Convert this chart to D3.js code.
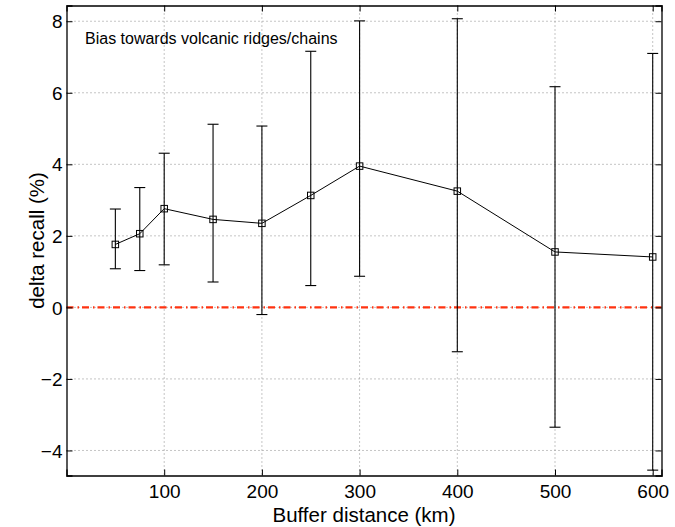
<!DOCTYPE html>
<html><head><meta charset="utf-8">
<script src="https://cdn.jsdelivr.net/npm/d3@7"></script>
<style>body{margin:0;background:#fff}svg{display:block}text{font-family:"Liberation Sans",Arial,Helvetica,sans-serif}</style>
</head><body>
<svg id="c" width="675" height="527"></svg>
<script>
const distances = [50, 75, 100, 150, 200, 250, 300, 400, 500, 600];
const meanValues = [1.76, 2.06, 2.76, 2.46, 2.35, 3.13, 3.95, 3.25, 1.55, 1.41];
const upperValues = [2.75, 3.35, 4.31, 5.12, 5.07, 7.16, 8.01, 8.07, 6.17, 7.10];
const lowerValues = [1.08, 1.03, 1.19, 0.71, -0.20, 0.61, 0.87, -1.24, -3.35, -4.55];
const xTicks = [100, 200, 300, 400, 500, 600];
const yTicks = [-4, -2, 0, 2, 4, 6, 8];
const annotation = "Bias towards volcanic ridges/chains";

const W = 675, H = 527;
const m = {l: 66.5, r: 13.5, t: 5.5, b: 51.5};
const svg = d3.select("#c");
const x = d3.scaleLinear().domain([0, 609]).range([m.l, W - m.r]);
const y = d3.scaleLinear().domain([-4.7, 8.44]).range([H - m.b, m.t]);
const fmt = d => d3.format("")(d).replace("-", "\u2212");

// grid
const g = svg.append("g");
g.selectAll(".gx").data(xTicks).join("line")
  .attr("x1", d => x(d)).attr("x2", d => x(d)).attr("y1", m.t).attr("y2", H - m.b)
  .attr("stroke", "#8a8a8a").attr("stroke-width", 1).attr("stroke-dasharray", "1,3");
g.selectAll(".gy").data(yTicks).join("line")
  .attr("y1", d => y(d)).attr("y2", d => y(d)).attr("x1", m.l).attr("x2", W - m.r)
  .attr("stroke", "#8a8a8a").attr("stroke-width", 1).attr("stroke-dasharray", "1,3");

// zero reference line
svg.append("line").attr("x1", x(0)).attr("x2", x(609)).attr("y1", y(0)).attr("y2", y(0))
  .attr("stroke", "#ff3311").attr("stroke-width", 2.2).attr("stroke-dasharray", "7,4,1.5,3");

// axes (MATLAB style, ticks inward on all sides)
const tl = 6;
const axB = svg.append("g").attr("transform", `translate(0,${H - m.b})`)
  .call(d3.axisBottom(x).tickValues(xTicks).tickSize(-tl).tickPadding(9).tickFormat(fmt));
const axT = svg.append("g").attr("transform", `translate(0,${m.t})`)
  .call(d3.axisTop(x).tickValues(xTicks).tickSize(-tl).tickFormat(""));
const axL = svg.append("g").attr("transform", `translate(${m.l},0)`)
  .call(d3.axisLeft(y).tickValues(yTicks).tickSize(-tl).tickPadding(4).tickFormat(fmt));
const axR = svg.append("g").attr("transform", `translate(${W - m.r},0)`)
  .call(d3.axisRight(y).tickValues(yTicks).tickSize(-tl).tickFormat(""));
[axB, axT, axL, axR].forEach(a => {
  a.select(".domain").attr("stroke", "#000").attr("stroke-width", 1.3);
  a.selectAll(".tick line").attr("stroke", "#000");
  a.selectAll("text").attr("fill", "#000").style("font-size", "19px");
});
axB.selectAll("text").attr("dy", "0.71em");
axL.selectAll("text").attr("dy", "0.35em");

// error bars
const cap = 5.5;
const eb = svg.append("g").attr("stroke", "#000").attr("stroke-width", 1.1);
distances.forEach((d, i) => {
  eb.append("line").attr("x1", x(d)).attr("x2", x(d)).attr("y1", y(lowerValues[i])).attr("y2", y(upperValues[i]));
  eb.append("line").attr("x1", x(d) - cap).attr("x2", x(d) + cap).attr("y1", y(lowerValues[i])).attr("y2", y(lowerValues[i]));
  eb.append("line").attr("x1", x(d) - cap).attr("x2", x(d) + cap).attr("y1", y(upperValues[i])).attr("y2", y(upperValues[i]));
});

// mean line
svg.append("path").datum(distances.map((d, i) => [d, meanValues[i]]))
  .attr("d", d3.line().x(p => x(p[0])).y(p => y(p[1])))
  .attr("fill", "none").attr("stroke", "#000").attr("stroke-width", 1);

// markers
const ms = 6.5;
svg.selectAll(".mk").data(distances).join("rect")
  .attr("x", d => x(d) - ms / 2).attr("y", (d, i) => y(meanValues[i]) - ms / 2)
  .attr("width", ms).attr("height", ms)
  .attr("fill", "none").attr("stroke", "#000").attr("stroke-width", 1);

// annotation
svg.append("text").attr("x", 85).attr("y", 44.3).style("font-size", "16px").attr("fill", "#000").text(annotation);

// axis labels
svg.append("text").attr("x", (m.l + W - m.r) / 2).attr("y", 521.5).attr("text-anchor", "middle")
  .style("font-size", "20.5px").attr("fill", "#000").text("Buffer distance (km)");
svg.append("text").attr("transform", `translate(44,${(m.t + H - m.b) / 2}) rotate(-90)`)
  .attr("text-anchor", "middle").style("font-size", "20.5px").attr("fill", "#000").text("delta recall (%)");
</script>
</body></html>
